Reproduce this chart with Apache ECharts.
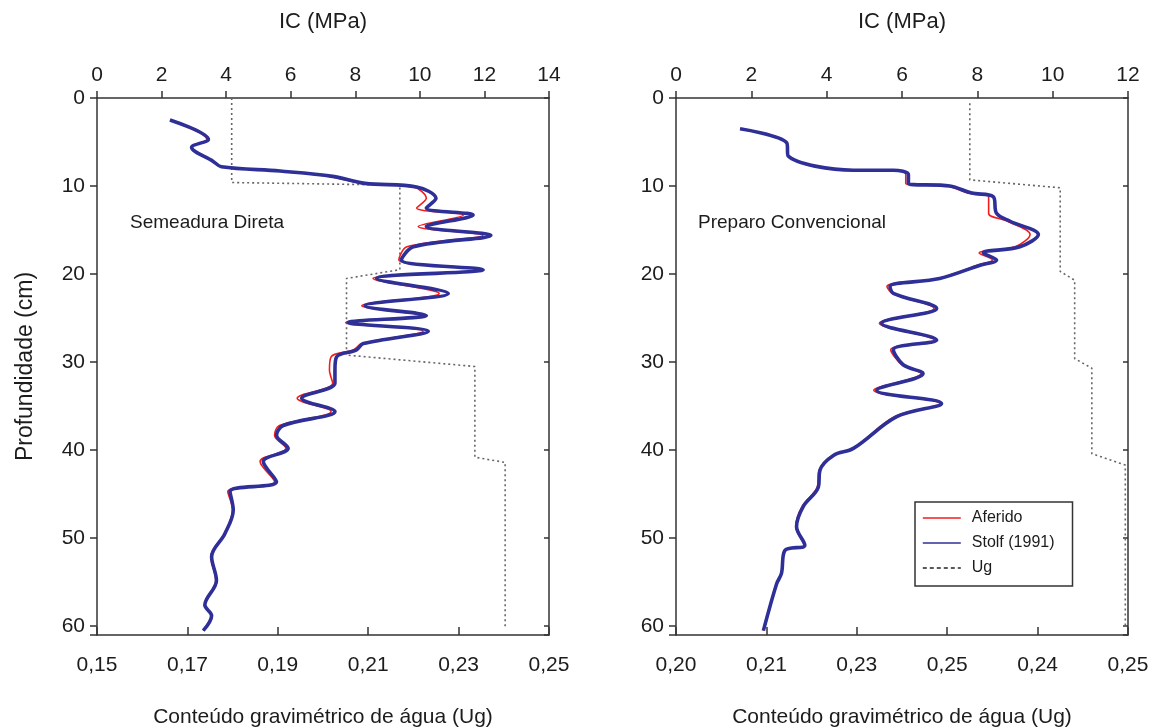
<!DOCTYPE html>
<html>
<head>
<meta charset="utf-8">
<script src="https://cdn.jsdelivr.net/npm/echarts@6/dist/echarts.min.js"></script>
<style>
  html, body { margin: 0; background: #fff; }
  #chart { width: 1161px; height: 728px; }
</style>
</head>
<body>
<div id="chart"></div>
<script>
// Semeadura Direta (left panel)
var sdDepth    = [2.5, 4.7, 5.6, 7.2, 7.8, 8.3, 8.9, 9.7, 10.1, 11.4, 12.5, 13.3, 14.6, 15.6, 16.9, 18.4, 19.5, 20.5, 22.2, 23.6, 24.7, 25.5, 26.5, 27.9, 28.6, 29.4, 30.9, 32.4, 34.1, 35.6, 37.2, 38.3, 39.8, 41.3, 43.6, 44.7, 46.8, 49.5, 52.1, 54.8, 57.6, 58.8, 60.5];
var sdStolf    = [2.26, 3.45, 2.93, 3.6, 3.85, 5.67, 7.3, 8.3, 9.9, 10.5, 10.2, 11.65, 10.2, 12.2, 9.8, 9.43, 11.96, 8.66, 10.88, 8.3, 10.2, 7.78, 10.26, 8.25, 8.04, 7.42, 7.37, 7.37, 6.34, 7.37, 5.77, 5.56, 5.92, 5.15, 5.56, 4.12, 4.22, 3.96, 3.55, 3.7, 3.34, 3.55, 3.29];
var sdAferido  = [2.26, 3.4, 2.93, 3.6, 3.85, 5.67, 7.2, 8.2, 9.8, 10.2, 9.9, 11.35, 9.95, 11.95, 9.6, 9.35, 11.85, 8.55, 10.6, 8.2, 10.05, 7.7, 10.1, 8.2, 7.95, 7.25, 7.2, 7.3, 6.2, 7.25, 5.65, 5.5, 5.85, 5.05, 5.5, 4.05, 4.2, 3.94, 3.53, 3.68, 3.33, 3.53, 3.29];
var sdUgDepth  = [0, 9.6, 9.9, 19.5, 20.5, 29.2, 30.5, 40.8, 41.4, 60];
var sdUg       = [0.1798, 0.1798, 0.217, 0.217, 0.2052, 0.2052, 0.2336, 0.2336, 0.2403, 0.2403];

// Preparo Convencional (right panel)
var pcDepth    = [3.5, 5.1, 6.6, 8.2, 8.2, 8.7, 9.7, 10.0, 10.8, 11.2, 13.1, 14.0, 15.5, 16.9, 17.6, 18.4, 19.0, 20.5, 21.4, 22.2, 23.9, 25.6, 27.5, 28.6, 30.3, 31.3, 33.2, 34.7, 36.2, 39.8, 40.6, 42.3, 44.2, 46.4, 48.7, 50.8, 51.4, 54.0, 55.2, 60.5];
var pcStolf    = [1.7, 2.94, 2.98, 4.71, 5.77, 6.17, 6.17, 7.27, 7.85, 8.42, 8.51, 8.87, 9.62, 9.13, 8.16, 8.51, 8.07, 7.0, 5.68, 5.77, 6.92, 5.46, 6.92, 5.77, 6.03, 6.56, 5.33, 7.05, 5.86, 4.71, 4.18, 3.82, 3.78, 3.38, 3.2, 3.42, 2.89, 2.8, 2.67, 2.32];
var pcAferido  = [1.7, 2.94, 2.98, 4.71, 5.77, 6.1, 6.1, 7.2, 7.75, 8.3, 8.3, 8.8, 9.4, 9.0, 8.05, 8.4, 8.0, 6.95, 5.6, 5.75, 6.85, 5.4, 6.85, 5.7, 6.0, 6.5, 5.25, 7.0, 5.8, 4.7, 4.15, 3.8, 3.75, 3.35, 3.18, 3.4, 2.88, 2.8, 2.66, 2.32];
var pcUgDepth  = [0.6, 9.3, 10.2, 19.7, 20.7, 29.6, 30.7, 40.4, 41.7, 60];
var pcUg       = [0.2325, 0.2325, 0.2425, 0.2425, 0.2441, 0.2441, 0.246, 0.246, 0.2497, 0.2497];

// tick labels of the bottom axes (as printed)
var ugLabelsSD = ['0,15', '0,17', '0,19', '0,21', '0,23', '0,25'];
var ugLabelsPC = ['0,20', '0,21', '0,23', '0,25', '0,24', '0,25'];

var FONT = '"Liberation Sans", Arial, sans-serif';
var AX = '#333';
var TXT = '#1c1c1c';

function pairs(xs, ys) {
  return xs.map(function (x, i) { return [x, ys[i]]; });
}

function topAxis(grid, max) {
  return {
    gridIndex: grid, type: 'value', position: 'top', min: 0, max: max, interval: 2,
    name: 'IC (MPa)', nameLocation: 'middle', nameGap: 65,
    nameTextStyle: { fontFamily: FONT, fontSize: 22, color: TXT },
    axisLine: { onZero: false, lineStyle: { color: AX, width: 1.5 } },
    axisTick: { inside: false, length: 7, lineStyle: { color: AX, width: 1.5 } },
    axisLabel: { margin: 12, fontFamily: FONT, fontSize: 21, color: TXT },
    splitLine: { show: false }
  };
}

function bottomAxis(grid, min, interval, labels) {
  return {
    gridIndex: grid, type: 'value', position: 'bottom', min: min, max: 0.25, interval: interval,
    name: 'Conteúdo gravimétrico de água (Ug)', nameLocation: 'middle', nameGap: 72,
    nameTextStyle: { fontFamily: FONT, fontSize: 21, color: TXT },
    axisLine: { onZero: false, lineStyle: { color: AX, width: 1.5 } },
    axisTick: { inside: true, length: 8, lineStyle: { color: AX, width: 1.5 } },
    axisLabel: {
      margin: 20, fontFamily: FONT, fontSize: 21, color: TXT,
      formatter: function (v) {
        var i = Math.round((v - min) / interval);
        return labels[i] !== undefined ? labels[i] : '';
      }
    },
    splitLine: { show: false }
  };
}

function depthAxis(grid, withName) {
  return {
    gridIndex: grid, type: 'value', inverse: true, min: 0, max: 61, interval: 10,
    name: withName ? 'Profundidade (cm)' : '', nameLocation: 'middle', nameGap: 60,
    nameTextStyle: { fontFamily: FONT, fontSize: 23, color: TXT },
    axisLine: { onZero: false, lineStyle: { color: AX, width: 1.5 } },
    axisTick: { inside: false, length: 7, lineStyle: { color: AX, width: 1.5 } },
    axisLabel: {
      margin: 12, fontFamily: FONT, fontSize: 21, color: TXT,
      formatter: function (v) { return v % 10 === 0 ? String(v) : ''; }
    },
    splitLine: { show: false }
  };
}

function innerTicks(grid) {
  return {
    gridIndex: grid, type: 'value', inverse: true, min: 0, max: 61, interval: 10,
    axisLine: { show: false, onZero: false },
    axisTick: { inside: true, length: 5, lineStyle: { color: AX, width: 1.5 } },
    axisLabel: { show: false },
    splitLine: { show: false }
  };
}

function rightBorder(grid) {
  return {
    gridIndex: grid, type: 'value', position: 'right', inverse: true, min: 0, max: 61,
    axisLine: { show: true, onZero: false, lineStyle: { color: AX, width: 1.5 } },
    axisTick: { show: false }, axisLabel: { show: false }, splitLine: { show: false }
  };
}

function curves(xAx, yAx, depth, stolf, aferido, ugDepth, ug, ugX) {
  return [
    {
      name: 'Aferido', type: 'line', xAxisIndex: xAx, yAxisIndex: yAx,
      data: pairs(aferido, depth), smooth: 0.35, symbol: 'none',
      lineStyle: { color: '#f21c1c', width: 1.6 }, itemStyle: { color: '#f21c1c' }, z: 3
    },
    {
      name: 'Stolf (1991)', type: 'line', xAxisIndex: xAx, yAxisIndex: yAx,
      data: pairs(stolf, depth), smooth: 0.35, symbol: 'none',
      lineStyle: { color: '#2f2f98', width: 3.6 }, itemStyle: { color: '#2f2f98' }, z: 4
    },
    {
      name: 'Ug', type: 'line', xAxisIndex: ugX, yAxisIndex: yAx,
      data: pairs(ug, ugDepth), symbol: 'none',
      lineStyle: { color: '#666', width: 1.6, type: [2, 3] }, itemStyle: { color: '#333' }, z: 2
    }
  ];
}

var noMark = { color: 'rgba(0,0,0,0)', borderColor: 'rgba(0,0,0,0)', borderWidth: 0, opacity: 0 };

var chart = echarts.init(document.getElementById('chart'));
chart.setOption({
  animation: false,
  backgroundColor: '#fff',
  grid: [
    { left: 97, top: 98, width: 452, height: 537, outerBoundsMode: 'none', containLabel: false },
    { left: 676, top: 98, width: 452, height: 537, outerBoundsMode: 'none', containLabel: false }
  ],
  xAxis: [
    topAxis(0, 14),
    bottomAxis(0, 0.15, 0.02, ugLabelsSD),
    topAxis(1, 12),
    bottomAxis(1, 0.20, 0.01, ugLabelsPC)
  ],
  yAxis: [
    depthAxis(0, true), innerTicks(0), rightBorder(0),
    depthAxis(1, false), innerTicks(1), rightBorder(1)
  ],
  legend: {
    left: 915, top: 502, orient: 'vertical',
    padding: [8, 18, 10, 7], itemGap: 9, itemWidth: 38, itemHeight: 16,
    borderColor: '#333', borderWidth: 1.5, backgroundColor: '#fff',
    textStyle: { fontFamily: FONT, fontSize: 16, color: TXT, padding: [0, 0, 0, 6] },
    data: [
      { name: 'Aferido', itemStyle: noMark, lineStyle: { color: '#f21c1c', width: 1.6 } },
      { name: 'Stolf (1991)', itemStyle: noMark, lineStyle: { color: '#2f2f98', width: 1.6 } },
      { name: 'Ug', itemStyle: noMark, lineStyle: { color: '#222', type: [4, 3], width: 1.5 } }
    ]
  },
  graphic: [
    { type: 'text', left: 130, top: 213, style: { text: 'Semeadura Direta', font: '19px ' + FONT, fill: TXT } },
    { type: 'text', left: 698, top: 213, style: { text: 'Preparo Convencional', font: '19px ' + FONT, fill: TXT } }
  ],
  series: [].concat(
    curves(0, 0, sdDepth, sdStolf, sdAferido, sdUgDepth, sdUg, 1),
    curves(2, 3, pcDepth, pcStolf, pcAferido, pcUgDepth, pcUg, 3)
  )
});
</script>
</body>
</html>
